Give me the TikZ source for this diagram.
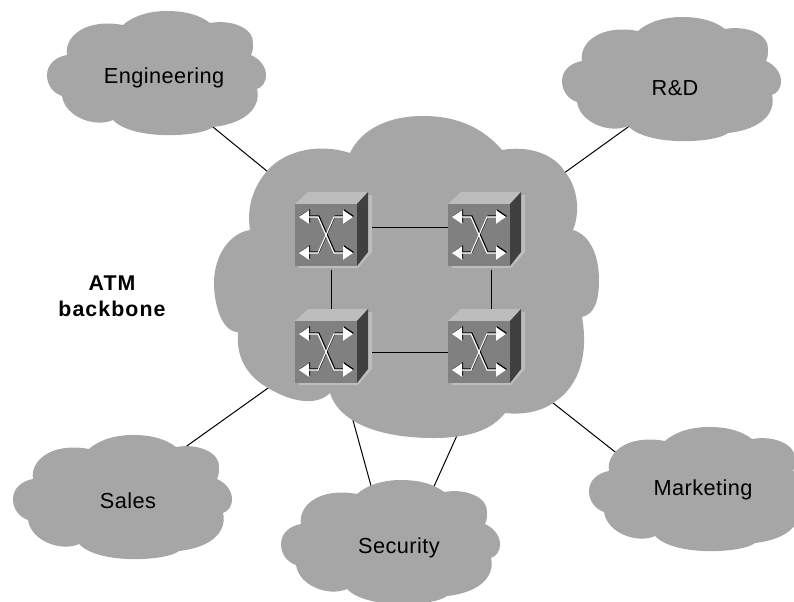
\documentclass[tikz,border=0pt]{standalone}
\usepackage{fontspec}
\setmainfont{Liberation Sans}
\usetikzlibrary{positioning, arrows.meta, backgrounds}
\definecolor{cloudgray}{HTML}{A6A6A6}
\definecolor{frontgray}{HTML}{808080}
\definecolor{topgray}{HTML}{BDBDBD}
\definecolor{sidegray}{HTML}{404040}
\tikzset{
	cloudlabel/.style={font=\fontsize{16.3}{19}\addfontfeature{LetterSpace=2}\selectfont, inner sep=0pt, text height=11.7pt, text depth=0pt},
	backbonelabel/.style={font=\fontsize{16}{19.5}\bfseries\addfontfeature{LetterSpace=5}\selectfont, align=center, inner sep=0pt},
	link/.style={black, line width=0.75pt},
	crossline/.style={line width=0.8pt, {Triangle[width=10pt,length=7.5pt]}-{Triangle[width=10pt,length=7.5pt]}},
	pics/smallcloud/.style={code={
		\fill[cloudgray] (-34,-50) .. controls (-24,-59) and (-8,-64) .. (10,-64)
			.. controls (28,-64) and (43,-60) .. (53,-52)
			.. controls (76,-56) and (97,-46) .. (96,-32)
			.. controls (96,-28) and (96,-24) .. (94,-20)
			.. controls (103,-16) and (109,-8) .. (109,0)
			.. controls (109,8) and (105,12) .. (100,14)
			.. controls (104,30) and (92,48) .. (56,52)
			.. controls (44,62) and (-24,66) .. (-44,45)
			.. controls (-62,53) and (-92,42) .. (-95,21)
			.. controls (-104,18) and (-110,10) .. (-110,0)
			.. controls (-110,-10) and (-102,-18) .. (-90,-20)
			.. controls (-93,-38) and (-72,-57) .. (-34,-50) -- cycle;
	}},
	pics/atmswitch/.style={code={
		% shadow, then the three faces
		\fill[topgray] (42,-40) -- (46,-40) -- (46,17) -- (32,33) -- (-27,33) -- (-27,31) -- (42,17) -- cycle;
		\fill[topgray] (-31,-31) -- (-18,-43) -- (42,-43) -- (31,-31) -- cycle;
		\fill[sidegray] (31,-31) -- (42,-43) -- (42,17) -- (31,31) -- cycle;
		\node[fill=frontgray, minimum size=46.5pt, inner sep=0pt, anchor=center] (-front) at (0,0) {};
		\foreach \dd/\col in {1/black, 0/white} {
			\draw[crossline, draw=\col] (-27+\dd,-18-\dd) -- (-8+\dd,-18-\dd) -- (8+\dd,18-\dd) -- (27+\dd,18-\dd);
			\draw[crossline, draw=\col] (-27+\dd,18-\dd) -- (-8+\dd,18-\dd) -- (8+\dd,-18-\dd) -- (27+\dd,-18-\dd);
		}
	}}
}

\begin{document}
\begin{tikzpicture}[x=0.75pt, y=-0.75pt]
	\clip (0,0) rectangle (794,601);
	
	% backbone cloud
	\fill[cloudgray] (350,153) .. controls (362,128) and (390,116) .. (423,116)
		.. controls (460,116) and (485,130) .. (502,150)
		.. controls (530,145) and (555,155) .. (565,172)
		.. controls (575,183) and (582,208) .. (573,230)
		.. controls (590,235) and (599,255) .. (599,280)
		.. controls (599,300) and (595,314) .. (582,317)
		.. controls (588,350) and (582,385) .. (553,403)
		.. controls (540,412) and (522,415) .. (505,413)
		.. controls (490,432) and (465,438) .. (433,438)
		.. controls (385,438) and (340,425) .. (330,393)
		.. controls (318,405) and (295,404) .. (268,388)
		.. controls (245,375) and (236,355) .. (238,332)
		.. controls (222,332) and (214,305) .. (214,283)
		.. controls (214,255) and (230,233) .. (250,230)
		.. controls (246,205) and (255,185) .. (267,171)
		.. controls (285,150) and (320,143) .. (350,153) -- cycle;
	
	\pic at (157,75) {smallcloud};
	\pic at (672,81) {smallcloud};
	\pic at (123,499) {smallcloud};
	\pic at (699,491) {smallcloud};
	\pic at (391,544) {smallcloud};
	
	\node[cloudlabel] (eng) at (164,76) {Engineering};
	\node[cloudlabel] (rnd) at (675,88) {R\&D};
	\node[cloudlabel] (sales) at (128,501) {Sales};
	\node[cloudlabel] (mkt) at (703,488) {Marketing};
	\node[cloudlabel] (sec) at (399,546) {Security};
	\node[backbonelabel] (atm) at (112,296) {ATM\\backbone};
	
	\coordinate (eng-port) at (205,120.5);
	\coordinate (rnd-port) at (635,122);
	\coordinate (sales-port) at (178,452.3);
	\coordinate (mkt-port) at (619,455);
	\coordinate (sec-port-a) at (373,493);
	\coordinate (sec-port-b) at (431,493);
	\coordinate (atm-nw) at (273,176);
	\coordinate (atm-ne) at (560,176);
	\coordinate (atm-sw) at (273,384.5);
	\coordinate (atm-se) at (548,399);
	\coordinate (atm-sa) at (351,413);
	\coordinate (atm-sb) at (459,431);
	
	\begin{scope}[on background layer]
		\draw[link] (eng-port) -- (atm-nw);
		\draw[link] (rnd-port) -- (atm-ne);
		\draw[link] (sales-port) -- (atm-sw);
		\draw[link] (mkt-port) -- (atm-se);
		\draw[link] (sec-port-a) -- (atm-sa);
		\draw[link] (sec-port-b) -- (atm-sb);
	\end{scope}
	
	% the four switches
	\pic (swa) at (326,235) {atmswitch};
	\pic (swb) at (479,235) {atmswitch};
	\pic (swc) at (326,352) {atmswitch};
	\pic (swd) at (479,352) {atmswitch};
	
	\draw[link, shorten <=11pt] ([yshift=6pt]swa-front.east) -- ([yshift=6pt]swb-front.west);
	\draw[link, shorten <=11pt] (swc-front.east) -- (swd-front.west);
	\draw[link, shorten <=2.5pt, shorten >=9pt] ([xshift=3.75pt]swa-front.south) -- ([xshift=3.75pt]swc-front.north);
	\draw[link, shorten <=2.5pt, shorten >=9pt] ([xshift=9pt]swb-front.south) -- ([xshift=9pt]swd-front.north);
\end{tikzpicture}
\end{document}
